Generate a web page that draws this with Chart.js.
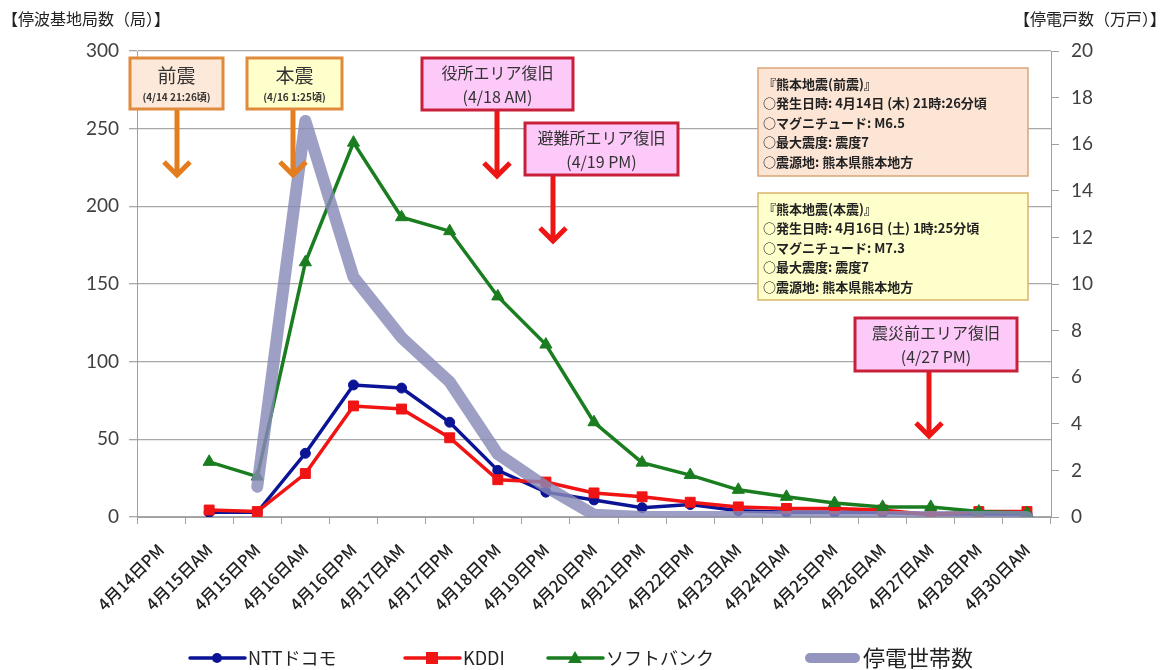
<!DOCTYPE html>
<html>
<head>
<meta charset="utf-8">
<script src="https://cdn.jsdelivr.net/npm/chart.js@4.4.1/dist/chart.umd.min.js"></script>
<style>
body { margin: 0; background: #fff; }
#chart-outer { position: relative; width: 1169px; height: 670px; }
</style>
</head>
<body>
<div id="chart-outer"><canvas id="chart-area" width="1169" height="670"></canvas></div>
<script>
const JP = "'Noto Sans CJK JP', sans-serif";
const NUM = "'Lato', 'Open Sans', sans-serif";

// 時点（x軸）
const dayLabels = ['4月14日PM','4月15日AM','4月15日PM','4月16日AM','4月16日PM','4月17日AM','4月17日PM',
  '4月18日PM','4月19日PM','4月20日PM','4月21日PM','4月22日PM','4月23日AM','4月24日AM',
  '4月25日PM','4月26日AM','4月27日AM','4月28日PM','4月30日AM'];

// 停波基地局数（局）
const docomoData   = [null, 3, 3, 41, 85, 83, 61, 30, 16, 11, 6, 8, 4, 3, 3, 3, 2, 2, 2];
const kddiData     = [null, 4.5, 3.5, 28, 71.5, 69.5, 51, 24, 22.5, 15.5, 13, 9.5, 6.5, 5.5, 5.5, 4.5, 1.5, 3.5, 3.5];
const softbankData = [null, 35.5, 26, 164, 241, 193, 184, 142, 111, 61, 35, 27, 17.5, 13, 9, 6.5, 6.5, 3.5, 2.5];

// 停電戸数（万戸）
const blackoutData = [null, null, 1.3, 17, 10.3, 7.7, 5.8, 2.7, 1.3, 0.1, 0, 0, 0, 0, 0, 0, 0, 0, 0];

// 軸目盛
const leftTicks = [0, 50, 100, 150, 200, 250, 300];
const rightTicks = [0, 2, 4, 6, 8, 10, 12, 14, 16, 18, 20];

const BLUE = '#0c1496';
const RED = '#f01414';
const GREEN = '#1a7d1f';
const GRAY = 'rgba(136,138,184,0.82)';

// 吹き出し（注記）
const notes = [
  {title: '前震', sub: '(4/14 21:26頃)', x: 130, y: 58, w: 93, h: 51, fill: '#fde9d9', stroke: '#e08a3c', arrow: '#e47d1e', ax: 177, tip: 177, big: true},
  {title: '本震', sub: '(4/16 1:25頃)', x: 247, y: 58, w: 95, h: 51, fill: '#ffffcc', stroke: '#e08a3c', arrow: '#e47d1e', ax: 293, tip: 177, big: true},
  {title: '役所エリア復旧', sub: '(4/18 AM)', x: 422, y: 58, w: 151, h: 52, fill: '#fcc9f9', stroke: '#c8203a', arrow: '#ee1515', ax: 497, tip: 178},
  {title: '避難所エリア復旧', sub: '(4/19 PM)', x: 525, y: 123, w: 153, h: 52, fill: '#fcc9f9', stroke: '#c8203a', arrow: '#ee1515', ax: 553, tip: 243},
  {title: '震災前エリア復旧', sub: '(4/27 PM)', x: 855, y: 318, w: 162, h: 53, fill: '#fcc9f9', stroke: '#c8203a', arrow: '#ee1515', ax: 929, tip: 438}
];

const infoBoxes = [
  {x: 758, y: 68, w: 270, h: 108, fill: '#fde5d6', stroke: '#d9a57a',
   lines: ['『熊本地震(前震)』', '○発生日時: 4月14日 (木) 21時:26分頃', '○マグニチュード: M6.5', '○最大震度: 震度7', '○震源地: 熊本県熊本地方']},
  {x: 758, y: 193, w: 270, h: 107, fill: '#ffffcc', stroke: '#d9b56a',
   lines: ['『熊本地震(本震)』', '○発生日時: 4月16日 (土) 1時:25分頃', '○マグニチュード: M7.3', '○最大震度: 震度7', '○震源地: 熊本県熊本地方']}
];

const legendItems = [
  {text: 'NTTドコモ', color: BLUE, marker: 'circle', x: 190, size: 18},
  {text: 'KDDI', color: RED, marker: 'rect', x: 405, size: 18},
  {text: 'ソフトバンク', color: GREEN, marker: 'triangle', x: 548, size: 18},
  {text: '停電世帯数', color: 'rgba(136,138,184,0.9)', marker: null, x: 805, size: 22}
];

function drawArrow(ctx, n) {
  ctx.save();
  ctx.strokeStyle = n.arrow;
  ctx.lineWidth = 5;
  ctx.lineCap = 'butt';
  ctx.beginPath();
  ctx.moveTo(n.ax, n.y + n.h);
  ctx.lineTo(n.ax, n.tip - 2);
  ctx.stroke();
  ctx.lineJoin = 'miter';
  ctx.beginPath();
  ctx.moveTo(n.ax - 13, n.tip - 15);
  ctx.lineTo(n.ax, n.tip - 2);
  ctx.lineTo(n.ax + 13, n.tip - 15);
  ctx.stroke();
  ctx.restore();
}

const extras = {
  id: 'extras',
  afterDraw(c) {
    const ctx = c.ctx;
    ctx.save();
    // 軸タイトル
    ctx.fillStyle = '#222';
    ctx.font = '16px ' + JP;
    ctx.textBaseline = 'middle';
    ctx.textAlign = 'left';
    ctx.fillText('【停波基地局数（局）】', 2, 19);
    ctx.textAlign = 'right';
    ctx.fillText('【停電戸数（万戸）】', 1166, 19);

    // 注記
    for (const n of notes) {
      drawArrow(ctx, n);
      ctx.fillStyle = n.fill;
      ctx.fillRect(n.x, n.y, n.w, n.h);
      ctx.strokeStyle = n.stroke;
      ctx.lineWidth = 3;
      ctx.strokeRect(n.x, n.y, n.w, n.h);
      ctx.fillStyle = '#333';
      ctx.textAlign = 'center';
      const cx = n.x + n.w / 2;
      if (n.big) {
        ctx.font = '19px ' + JP;
        ctx.fillText(n.title, cx, n.y + 18);
        ctx.font = 'bold 10px ' + JP;
        ctx.fillText(n.sub, cx, n.y + 39);
      } else {
        ctx.font = '16px ' + JP;
        ctx.fillText(n.title, cx, n.y + 15);
        ctx.fillText(n.sub, cx, n.y + 39);
      }
    }

    // 地震情報
    for (const b of infoBoxes) {
      ctx.fillStyle = b.fill;
      ctx.fillRect(b.x, b.y, b.w, b.h);
      ctx.strokeStyle = b.stroke;
      ctx.lineWidth = 1.5;
      ctx.strokeRect(b.x, b.y, b.w, b.h);
      ctx.fillStyle = '#222';
      ctx.textAlign = 'left';
      ctx.font = 'bold 13px ' + JP;
      b.lines.forEach((t, i) => ctx.fillText(t, b.x + 5, b.y + 16 + i * 19.5));
    }

    // 凡例
    const ly = 658;
    for (const it of legendItems) {
      ctx.strokeStyle = it.color;
      ctx.fillStyle = it.color;
      ctx.lineCap = 'round';
      if (it.marker) {
        ctx.lineWidth = 3.5;
        ctx.beginPath();
        ctx.moveTo(it.x, ly);
        ctx.lineTo(it.x + 55, ly);
        ctx.stroke();
        const mx = it.x + 27;
        ctx.beginPath();
        if (it.marker === 'circle') ctx.arc(mx, ly, 5, 0, Math.PI * 2);
        else if (it.marker === 'rect') ctx.rect(mx - 6, ly - 6, 12, 12);
        else { ctx.moveTo(mx, ly - 7); ctx.lineTo(mx + 7, ly + 5); ctx.lineTo(mx - 7, ly + 5); ctx.closePath(); }
        ctx.fill();
      } else {
        ctx.lineWidth = 10;
        ctx.beginPath();
        ctx.moveTo(it.x + 5, ly);
        ctx.lineTo(it.x + 50, ly);
        ctx.stroke();
      }
      ctx.fillStyle = '#222';
      ctx.textAlign = 'left';
      ctx.font = it.size + 'px ' + JP;
      ctx.fillText(it.text, it.x + 58, ly);
    }
    ctx.restore();
  }
};

let chart = new Chart(document.getElementById('chart-area'), {
  type: 'line',
  data: {
    labels: dayLabels,
    datasets: [
      {label: '停電世帯数', data: blackoutData, yAxisID: 'y1', borderColor: GRAY, borderWidth: 12,
       pointRadius: 0, borderCapStyle: 'round', borderJoinStyle: 'round', spanGaps: false},
      {label: 'ソフトバンク', data: softbankData, yAxisID: 'y', borderColor: GREEN, backgroundColor: GREEN,
       borderWidth: 3.5, pointStyle: 'triangle', pointRadius: 7, pointBorderWidth: 1},
      {label: 'KDDI', data: kddiData, yAxisID: 'y', borderColor: RED, backgroundColor: RED,
       borderWidth: 3.5, pointStyle: 'rect', pointRadius: 7, pointBorderWidth: 1},
      {label: 'NTTドコモ', data: docomoData, yAxisID: 'y', borderColor: BLUE, backgroundColor: BLUE,
       borderWidth: 3.5, pointStyle: 'circle', pointRadius: 5, pointBorderWidth: 1}
    ]
  },
  plugins: [extras],
  options: {
    responsive: false,
    animation: false,
    layout: {padding: {top: 51, left: 0, right: 0, bottom: 0}},
    plugins: {legend: {display: false}, tooltip: {enabled: false}},
    scales: {
      x: {
        offset: true,
        grid: {drawOnChartArea: false, offset: true, tickLength: 7, color: '#a0a0a0'},
        border: {color: '#a0a0a0'},
        ticks: {autoSkip: false, minRotation: 45, maxRotation: 45, padding: 16, color: '#222',
                font: {size: 16.5, family: JP, weight: '500'}},
        afterFit(s) { s.height = 153; }
      },
      y: {
        position: 'left', min: 0, max: 300,
        afterBuildTicks(s) { s.ticks = leftTicks.map(v => ({value: v})); },
        grid: {color: '#a8a8a8', lineWidth: 1.3, tickLength: 8},
        border: {color: '#a0a0a0'},
        ticks: {color: '#404040', padding: 10, font: {size: 19, family: NUM}},
        afterFit(s) { s.width = 137; }
      },
      y1: {
        position: 'right', min: 0, max: 20,
        afterBuildTicks(s) { s.ticks = rightTicks.map(v => ({value: v})); },
        grid: {drawOnChartArea: false, tickLength: 8, color: '#a0a0a0'},
        border: {color: '#a0a0a0'},
        ticks: {color: '#404040', padding: 12, font: {size: 19, family: NUM}},
        afterFit(s) { s.width = 118; }
      }
    }
  }
});
</script>
</body>
</html>
